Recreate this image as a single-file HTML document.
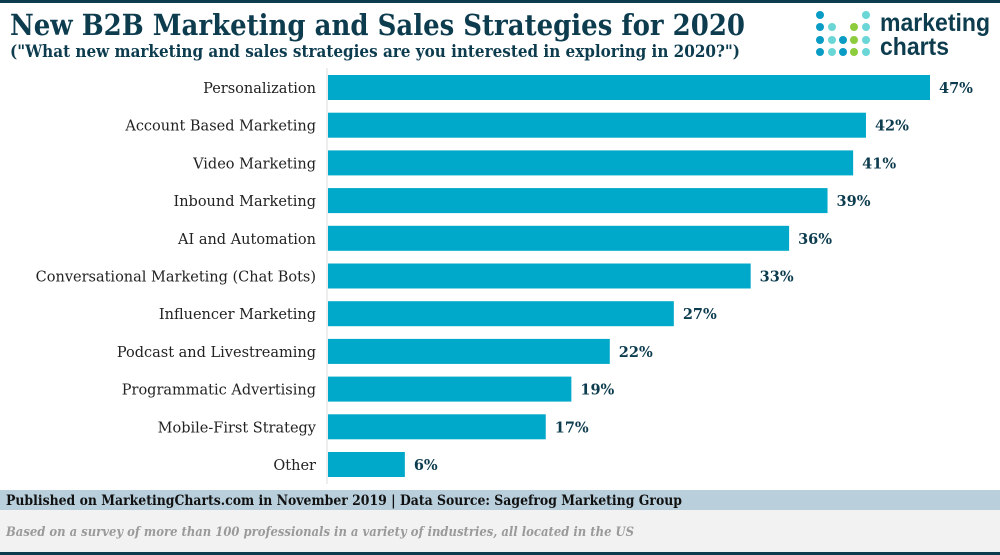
<!DOCTYPE html>
<html><head><meta charset="utf-8"><style>
html,body{margin:0;padding:0;background:#fff;}
svg{display:block;font-family:"DejaVu Serif","Liberation Serif",serif;}
</style></head><body>
<svg id="chart" width="1000" height="555" viewBox="0 0 1000 555">
<rect x="0" y="0" width="1000" height="3" fill="#0d3c4f"/>
<text x="10" y="35" font-size="29" font-weight="bold" fill="#0d3c4f" textLength="735" lengthAdjust="spacingAndGlyphs">New B2B Marketing and Sales Strategies for 2020</text>
<text x="10" y="57" font-size="17" font-weight="bold" fill="#0d3c4f" textLength="730" lengthAdjust="spacingAndGlyphs">("What new marketing and sales strategies are you interested in exploring in 2020?")</text>
<g id="logo">
<g id="dots"></g>
<text x="880" y="31" font-family="Liberation Sans, sans-serif" font-size="25" font-weight="bold" fill="#0d3c4f" textLength="110" lengthAdjust="spacingAndGlyphs">marketing</text>
<text x="880" y="55" font-family="Liberation Sans, sans-serif" font-size="25" font-weight="bold" fill="#0d3c4f" textLength="69" lengthAdjust="spacingAndGlyphs">charts</text>
</g>
<line x1="327" y1="68" x2="327" y2="484" stroke="#ddd" stroke-width="1"/>
<g id="bars"></g>
<rect x="0" y="490" width="1000" height="20" fill="#b9cfdc"/>
<text x="6" y="505" font-size="14" font-weight="bold" fill="#111" textLength="676" lengthAdjust="spacingAndGlyphs">Published on MarketingCharts.com in November 2019 | Data Source: Sagefrog Marketing Group</text>
<rect x="0" y="510" width="1000" height="42" fill="#f2f2f2"/>
<text x="6" y="536" font-size="13" font-style="italic" font-weight="bold" fill="#9a9a9a" textLength="628" lengthAdjust="spacingAndGlyphs">Based on a survey of more than 100 professionals in a variety of industries, all located in the US</text>
<rect x="0" y="552" width="1000" height="3" fill="#0d3c4f"/>
</svg>
<script>
const categories=["Personalization","Account Based Marketing","Video Marketing","Inbound Marketing","AI and Automation","Conversational Marketing (Chat Bots)","Influencer Marketing","Podcast and Livestreaming","Programmatic Advertising","Mobile-First Strategy","Other"];
const values=[47,42,41,39,36,33,27,22,19,17,6];
const valueLabels=["47%","42%","41%","39%","36%","33%","27%","22%","19%","17%","6%"];
const NS="http://www.w3.org/2000/svg";
const x0=328, pxPer=602/47, yTop=75, step=37.7, bh=25;
function xScale(v){return x0+v*pxPer;}
function yScale(i){return yTop+i*step;}
const g=document.getElementById('bars');
categories.forEach((c,i)=>{
  const y=yScale(i);
  const r=document.createElementNS(NS,'rect');
  
  
  r.setAttribute('x',x0);r.setAttribute('y',y);r.setAttribute('width',xScale(values[i])-x0);r.setAttribute('height',bh);r.setAttribute('fill','#00a8c9');
  g.appendChild(r);
  const t=document.createElementNS(NS,'text');
  
  
  t.setAttribute('x',316);t.setAttribute('y',y+18);t.setAttribute('text-anchor','end');t.setAttribute('font-size','14.5');t.setAttribute('fill','#222');
  t.textContent=c;g.appendChild(t);
  const v=document.createElementNS(NS,'text');
  
  
  v.setAttribute('x',xScale(values[i])+9);v.setAttribute('y',y+18);v.setAttribute('font-size','14.5');v.setAttribute('font-weight','bold');v.setAttribute('fill','#0d3c4f');
  v.textContent=valueLabels[i];g.appendChild(v);
});
const dg=document.getElementById('dots');
const cols=[820,832,843,854,866], rows=[15,27,40,52];
const pat=[["b",0,0,0,"t"],["b","t",0,"g","t"],["b","t","b","g","t"],["b","t","b","g","t"]];
const colr={b:"#0a9cc4",t:"#6bd6d6",g:"#8dcc3c"};
pat.forEach((row,ri)=>row.forEach((p,ci)=>{if(!p)return;
  const c=document.createElementNS(NS,'circle');
  
  
  c.setAttribute('cx',cols[ci]);c.setAttribute('cy',rows[ri]);c.setAttribute('r',4);c.setAttribute('fill',colr[p]);dg.appendChild(c);}));
</script>
</body></html>
